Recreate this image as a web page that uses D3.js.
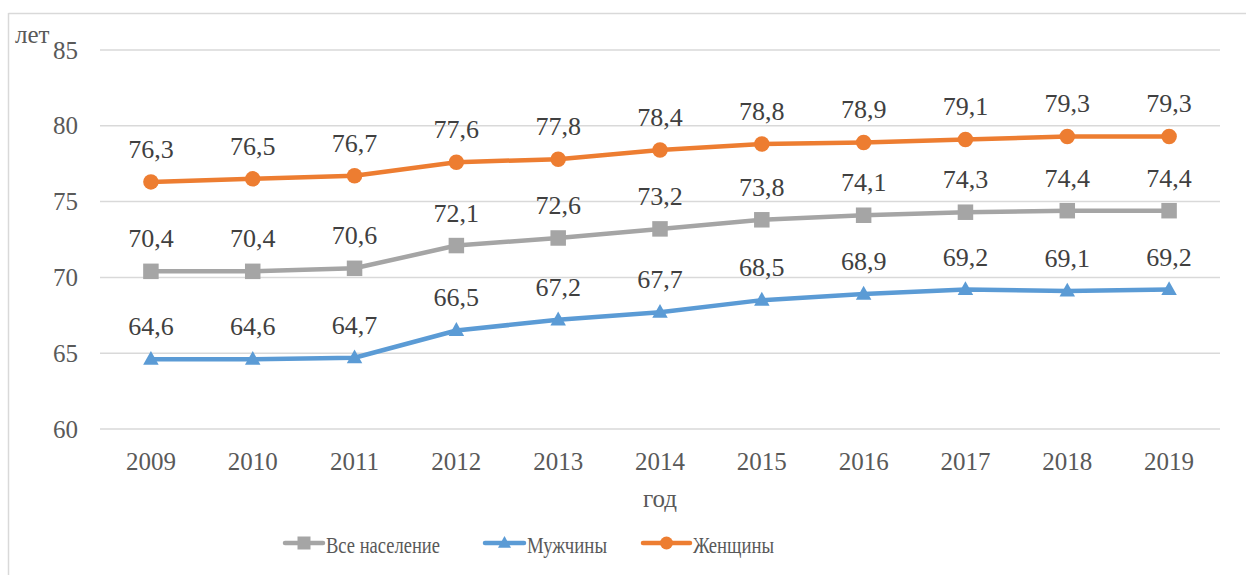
<!DOCTYPE html>
<html>
<head>
<meta charset="utf-8">
<script src="https://cdn.jsdelivr.net/npm/d3@7"></script>
<style>
  body { margin: 0; background: #fff; }
</style>
</head>
<body>
<div id="chart-area"></div>
<script>

// data
var years = ["2009", "2010", "2011", "2012", "2013", "2014", "2015", "2016", "2017", "2018", "2019"];
var allPop = [70.4, 70.4, 70.6, 72.1, 72.6, 73.2, 73.8, 74.1, 74.3, 74.4, 74.4];
var men = [64.6, 64.6, 64.7, 66.5, 67.2, 67.7, 68.5, 68.9, 69.2, 69.1, 69.2];
var women = [76.3, 76.5, 76.7, 77.6, 77.8, 78.4, 78.8, 78.9, 79.1, 79.3, 79.3];
var yTicks = [60, 65, 70, 75, 80, 85];

var series = [
  {name: "Все население", values: allPop, color: "#A5A5A5", marker: "square"},
  {name: "Мужчины", values: men, color: "#5B9BD5", marker: "triangle"},
  {name: "Женщины", values: women, color: "#ED7D31", marker: "circle"}
];

var FONT = "Liberation Serif";

var W = 1246, H = 575;
var margin = {top: 50, right: 26, bottom: 146, left: 100};
var width = W - margin.left - margin.right,
    height = H - margin.top - margin.bottom;

var root = d3.select("#chart-area").append("svg")
    .attr("width", W)
    .attr("height", H)
    .attr("font-family", FONT);

// chart border (left and top edges visible)
root.append("line")
    .attr("x1", 8.5).attr("x2", 8.5)
    .attr("y1", 13).attr("y2", H)
    .attr("stroke", "#d9d9d9")
    .attr("stroke-width", 1.5);
root.append("line")
    .attr("x1", 8.5).attr("x2", W)
    .attr("y1", 13.5).attr("y2", 13.5)
    .attr("stroke", "#d9d9d9")
    .attr("stroke-width", 1.5);

var svg = root.append("g")
    .attr("transform", "translate(" + margin.left + "," + margin.top + ")");

// Scales
var x = d3.scaleBand()
    .domain(years)
    .range([0, width]);

var y = d3.scaleLinear()
    .domain([60, 85])
    .range([height, 0]);

function cx(i) { return x(years[i]) + x.bandwidth() / 2; }

// grid
svg.selectAll(".grid")
    .data(yTicks)
  .enter().append("line")
    .attr("class", "grid")
    .attr("x1", 0).attr("x2", width)
    .attr("y1", function(d) { return y(d); })
    .attr("y2", function(d) { return y(d); })
    .attr("stroke", "#d9d9d9")
    .attr("stroke-width", 1.5);

// y axis
var yAxis = d3.axisLeft(y).tickValues(yTicks).tickSize(0).tickPadding(22);
var yg = svg.append("g").call(yAxis).attr("font-family", FONT);
yg.select(".domain").remove();
yg.selectAll("text")
    .attr("font-family", FONT)
    .attr("font-size", 25)
    .attr("fill", "#595959")
    .attr("dy", "0.32em");

// x axis
var xAxis = d3.axisBottom(x).tickSize(0).tickPadding(23);
var xg = svg.append("g")
    .attr("transform", "translate(0," + height + ")")
    .call(xAxis).attr("font-family", FONT);
xg.select(".domain").remove();
xg.selectAll("text")
    .attr("font-family", FONT)
    .attr("font-size", 25)
    .attr("fill", "#595959");

// axis titles
root.append("text")
    .attr("x", 15).attr("y", 43)
    .attr("font-family", FONT)
    .attr("font-size", 25)
    .attr("fill", "#595959")
    .text("лет");

root.append("text")
    .attr("x", 660).attr("y", 507)
    .attr("text-anchor", "middle")
    .attr("font-family", FONT)
    .attr("font-size", 25)
    .attr("fill", "#595959")
    .text("год");

var line = d3.line()
    .x(function(d, i) { return cx(i); })
    .y(function(d) { return y(d); });

function drawMarker(g, type, color, px, py, s) {
  if (type == "square") {
    g.append("rect")
        .attr("x", px - s / 2).attr("y", py - s / 2)
        .attr("width", s).attr("height", s)
        .attr("fill", color);
  } else if (type == "circle") {
    g.append("circle")
        .attr("cx", px).attr("cy", py).attr("r", s / 2)
        .attr("fill", color);
  } else {
    var h = s * 0.9;
    g.append("path")
        .attr("d", "M" + px + "," + (py - h * 0.6) + "L" + (px + s / 2) + "," + (py + h * 0.4) +
                   "L" + (px - s / 2) + "," + (py + h * 0.4) + "Z")
        .attr("fill", color);
  }
}

var fmt = function(v) { return d3.format(".1f")(v).replace(".", ","); };

series.forEach(function(s) {
  var g = svg.append("g");
  g.append("path")
      .datum(s.values)
      .attr("d", line)
      .attr("fill", "none")
      .attr("stroke", s.color)
      .attr("stroke-width", 4.5)
      .attr("stroke-linejoin", "round");

  s.values.forEach(function(v, i) {
    drawMarker(g, s.marker, s.color, cx(i), y(v), 15.5);
  });

  g.selectAll(".lbl")
      .data(s.values)
    .enter().append("text")
      .attr("class", "lbl")
      .attr("x", function(d, i) { return cx(i); })
      .attr("y", function(d) { return y(d) - 24; })
      .attr("text-anchor", "middle")
      .attr("font-family", FONT)
      .attr("font-size", 26)
      .attr("fill", "#404040")
      .text(fmt);
});

// legend
var legendX = [285, 485, 643];
var lineLen = [38, 39, 47];
var textLen = [114, 80, 81];
var legend = root.append("g");
series.forEach(function(s, i) {
  var lx = legendX[i];
  var ly = 543;
  var g = legend.append("g");
  g.append("line")
      .attr("x1", lx).attr("x2", lx + lineLen[i])
      .attr("y1", ly).attr("y2", ly)
      .attr("stroke", s.color)
      .attr("stroke-width", 4.5)
      .attr("stroke-linecap", "round");
  drawMarker(g, s.marker, s.color, lx + lineLen[i] / 2, ly, 13);
  g.append("text")
      .attr("x", lx + lineLen[i] + 3).attr("y", ly + 10)
      .attr("font-family", FONT)
      .attr("font-size", 23.5)
      .attr("textLength", textLen[i])
      .attr("lengthAdjust", "spacingAndGlyphs")
      .attr("fill", "#595959")
      .text(s.name);
});

</script>
</body>
</html>
